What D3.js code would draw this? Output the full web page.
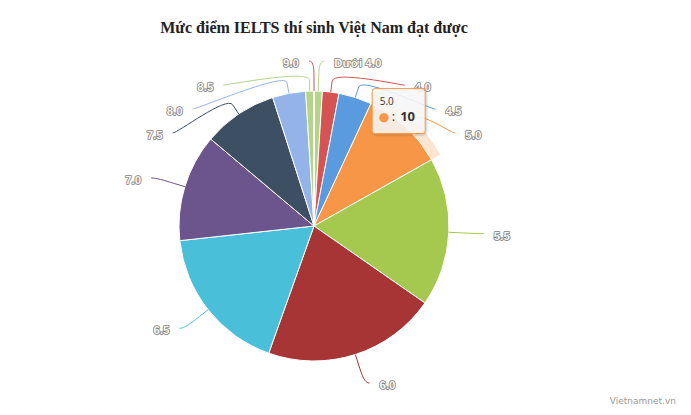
<!DOCTYPE html>
<html><head><meta charset="utf-8">
<script src="https://cdn.jsdelivr.net/npm/d3@7"></script>
<style>body{margin:0;background:#fff}svg{display:block}</style>
</head><body>
<svg id="c" width="691" height="415"></svg>
<script>
// ---- data ----
const categories = ["Dưới 4.0","4.0","4.5","5.0","5.5","6.0","6.5","7.0","7.5","8.0","8.5","9.0"];
const values = [1, 2, 4, 10, 18, 21, 18, 13, 9, 4, 1, 0];
const colors = ["#b5d48a","#d45353","#5a9be0","#f79646","#a5c84f","#a73535","#4abfd9","#6c548c","#3d4f63","#93b3e9"];
const titleText = "Mức điểm IELTS thí sinh Việt Nam đạt được";
const creditText = "Vietnamnet.vn";
const hoveredCategory = "5.0";

// ---- layout ----
const W = 691, H = 415;
const cx = 314, cy = 226, r = 135;
const labelDist = 30, connectorOffset = 11, slot = 24, pad = 5;

const svg = d3.select("#c");
const defs = svg.append("defs");
const f = defs.append("filter").attr("id","sh").attr("x","-20%").attr("y","-20%").attr("width","150%").attr("height","150%");
f.append("feDropShadow").attr("dx",1).attr("dy",1).attr("stdDeviation",1.2).attr("flood-color","#000").attr("flood-opacity",0.25);

const data = categories.map((c,i)=>({c, v:values[i], color: colors[i % colors.length]}));
const pie = d3.pie().sort(null).value(d=>d.v);
const arcs = pie(data);
const arc = d3.arc().innerRadius(0).outerRadius(r);
const g = svg.append("g").attr("transform",`translate(${cx},${cy})`);

// halo of hovered slice
const hov = arcs.find(a=>a.data.c===hoveredCategory);
g.append("path")
  .attr("d", d3.arc().innerRadius(r).outerRadius(r+10)(hov))
  .attr("fill", hov.data.color).attr("fill-opacity",0.25);

g.selectAll("path.slice").data(arcs).join("path")
  .attr("class","slice")
  .attr("d", arc)
  .attr("fill", d=>d.data.color)
  .attr("stroke","#fff").attr("stroke-width",1).attr("stroke-linejoin","round");

// ---- labels (Highcharts-like placement) ----
const R = r + labelDist;
const items = arcs.map(d=>{
  const mid = (d.startAngle + d.endAngle)/2;
  const a = mid - Math.PI/2;
  return {
    d, mid, left: mid > Math.PI,
    ny: cy + Math.sin(a)*R,
    bx: cx + Math.cos(a)*(r+connectorOffset), by: cy + Math.sin(a)*(r+connectorOffset),
    px: cx + Math.cos(a)*r, py: cy + Math.sin(a)*r
  };
});
[true,false].forEach(side=>{
  const list = items.filter(it=>it.left===side).sort((a,b)=>a.ny-b.ny);
  let prev = -Infinity;
  list.forEach(it=>{ it.y = Math.max(it.ny, prev + slot); prev = it.y; });
});
items.forEach(it=>{
  const s = it.left ? -1 : 1;
  const t = Math.max(-1, Math.min(1, (it.y - cy)/R));
  it.x = cx + s*(Math.cos(Math.asin(t))*R + pad);
  it.s = s;
});

const lg = svg.append("g");
lg.selectAll("path.conn").data(items).join("path")
  .attr("class","conn")
  .attr("fill","none")
  .attr("stroke", it=>it.d.data.color)
  .attr("stroke-width",1)
  .attr("d", it=>`M${it.x},${it.y}C${it.x - it.s*5},${it.y} ${2*it.bx-it.px},${2*it.by-it.py} ${it.bx},${it.by}L${it.px},${it.py}`);

lg.selectAll("text.lbl").data(items).join("text")
  .attr("class","lbl")
  .attr("x", it=>it.x + it.s*10)
  .attr("y", it=>it.y + 6)
  .attr("text-anchor", it=>it.left ? "end" : "start")
  .style("font-family","Arial, 'Liberation Sans', sans-serif")
  .style("font-size","11.5px").style("font-weight","bold")
  .style("fill","#f6f6f6").style("stroke","#808080").style("stroke-width","1.6px")
  .style("paint-order","stroke").style("stroke-linejoin","round")
  .text(it=>it.d.data.c);

// ---- title & credits ----
svg.append("text").attr("x", cx).attr("y", 33).attr("text-anchor","middle")
  .style("font-family","'Times New Roman', 'Liberation Serif', serif")
  .style("font-size","16px").style("font-weight","bold").style("fill","#222")
  .text(titleText);
svg.append("text").attr("x", 676).attr("y", 404).attr("text-anchor","end")
  .style("font-family","'DejaVu Sans', sans-serif").style("font-size","9px").style("fill","#999")
  .text(creditText);

// ---- tooltip ----
const tAx = cx + Math.sin(hov.startAngle/2 + hov.endAngle/2)*r*0.7;
const tAy = cy - Math.cos(hov.startAngle/2 + hov.endAngle/2)*r*0.7;
const tx = tAx - 6.5, ty = tAy - 68.5;
const tg = svg.append("g").attr("transform",`translate(${tx},${ty})`);
tg.append("rect").attr("x",0.5).attr("y",0.5).attr("width",53).attr("height",45).attr("rx",3)
  .attr("fill","rgba(250,250,250,0.85)").attr("stroke",hov.data.color).attr("stroke-width",1)
  .attr("filter","url(#sh)");
tg.append("text").attr("x",8).attr("y",17)
  .style("font-family","'Open Sans', sans-serif").style("font-size","10px").style("fill","#333")
  .text(hov.data.c);
const ff = "'Open Sans', sans-serif";
tg.append("text").attr("x",7).attr("y",33).style("font-family","'DejaVu Sans', sans-serif").style("font-size","12px")
  .style("fill",hov.data.color).text("●");
tg.append("text").attr("x",20).attr("y",33).style("font-family",ff).style("font-size","13px")
  .style("fill","#333").text(":");
tg.append("text").attr("x",28.5).attr("y",33).style("font-family",ff).style("font-size","13px")
  .style("font-weight","bold").style("fill","#333").text(hov.data.v);
</script>
</body></html>
